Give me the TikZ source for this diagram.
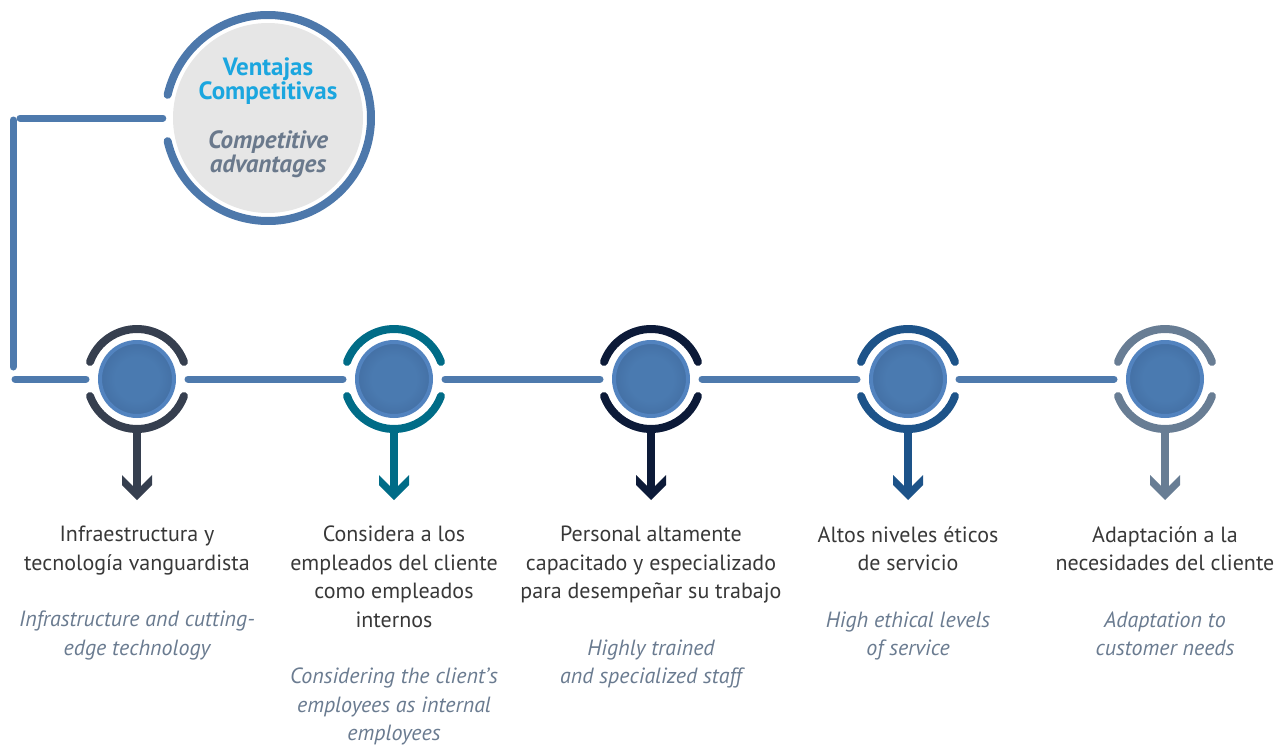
\documentclass[tikz,border=0pt]{standalone}
\usepackage{fontspec}
\setmainfont{PT Sans}
\definecolor{link}{HTML}{4E7AAD}
\definecolor{bigring}{HTML}{4D78AB}
\definecolor{advgray}{HTML}{E6E6E6}
\definecolor{title}{HTML}{1BA6DF}
\definecolor{advtext}{HTML}{6A798C}
\definecolor{estext}{HTML}{383838}
\definecolor{entext}{HTML}{6A7B90}
\definecolor{rim}{HTML}{5283BF}
\definecolor{diskin}{HTML}{4A7AB0}
\definecolor{diskout}{HTML}{345789}
\definecolor{ringA}{HTML}{363F4F}
\definecolor{ringB}{HTML}{006C87}
\definecolor{ringC}{HTML}{0C1A38}
\definecolor{ringD}{HTML}{1D5389}
\definecolor{ringE}{HTML}{687D94}
\pgfdeclareradialshading{disk}{\pgfpoint{0bp}{0bp}}{color(0bp)=(diskin); color(15bp)=(diskin); color(50bp)=(diskout); color(100bp)=(diskout)}
\newcommand{\eng}[1]{\textcolor{entext}{\itshape #1}}
\begin{document}
\begin{tikzpicture}[x=1pt,y=-1pt,
  link/.style={draw=link, line width=7pt, line cap=round},
  ring/.style={line width=8pt, line cap=round},
  hub/.style={circle, minimum size=74pt, inner sep=0pt, draw=rim, line width=4pt, shading=disk},
  col/.style={align=center, text=estext, anchor=north, inner sep=0pt, font=\fontsize{22}{28.4}\selectfont}]
 \useasboundingbox (0,0) rectangle (1278,747);
 % title circle
 \node[circle, fill=advgray, minimum size=190pt, inner sep=0pt, align=center,
   font=\fontsize{25}{23.5}\selectfont] (adv) at (268,118)
   {\textcolor{title}{\bfseries Ventajas}\\\textcolor{title}{\bfseries Competitivas}\\[26pt]
    \textcolor{advtext}{\bfseries\itshape Competitive}\\\textcolor{advtext}{\bfseries\itshape advantages}};
 \draw[ring, bigring] (adv) ++(193:103) arc[start angle=193, end angle=527, radius=103];
 %
 \coordinate (c1) at (13,118);
 \coordinate (c2) at (13,379);
 %
 \foreach \i/\x/\c in {1/137/ringA,2/394/ringB,3/651/ringC,4/908/ringD,5/1165/ringE}{
  \node[hub] (n\i) at (\x,379) {};
  \draw[ring,\c] (n\i) ++(20:50) arc[start angle=20, end angle=160, radius=50];
  \draw[ring,\c] (n\i) ++(200:50) arc[start angle=200, end angle=340, radius=50];
  \coordinate (t\i) at (\x,500);
  \draw[\c, line width=8pt, shorten <=7pt, shorten >=12pt] (n\i.south) -- (t\i);
  \fill[\c] (t\i) -- ++(-15,-15) -- ++(0,-10) -- ++(11,11) -- ++(8,0) -- ++(11,-11) -- ++(0,10) -- cycle;
 }
 % connectors
 \draw[link, shorten <=10pt, shorten >=7pt] (adv.west) -- (c1);
 \draw[link, shorten <=2pt, shorten >=12pt] (c1) -- (c2);
 \draw[link, shorten <=2pt, shorten >=12pt] (c2) -- (n1);
 \foreach \i [count=\j from 2] in {1,...,4}
  \draw[link, shorten <=12pt, shorten >=12pt] (n\i) -- (n\j);
 % texts
 \node[col] (l1) at (137,526) {Infraestructura y\\tecnología vanguardista\\[28.4pt]
   \eng{Infrastructure and cutting-}\\\eng{edge technology}};
 \node[col] (l2) at (394,526) {Considera a los\\empleados del cliente\\como empleados\\internos\\[28.4pt]
   \eng{Considering the client's}\\\eng{employees as internal}\\\eng{employees}};
 \node[col] (l3) at (651,526) {Personal altamente\\capacitado y especializado\\para desempeñar su trabajo\\[28.4pt]
   \eng{Highly trained}\\\eng{and specialized staff}};
 \node[col] (l4) at (908,526) {Altos niveles éticos\\de servicio\\[28.4pt]
   \eng{High ethical levels}\\\eng{of service}};
 \node[col] (l5) at (1165,526) {Adaptación a la\\necesidades del cliente\\[28.4pt]
   \eng{Adaptation to}\\\eng{customer needs}};
\end{tikzpicture}
\end{document}
